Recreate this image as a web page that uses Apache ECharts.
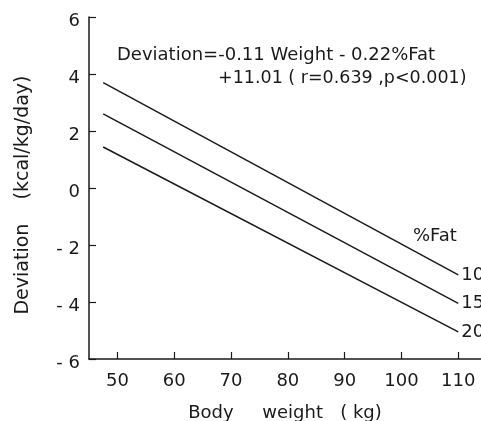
<!DOCTYPE html>
<html>
<head>
<meta charset="utf-8">
<title>Deviation vs body weight</title>
<script src="https://cdn.jsdelivr.net/npm/echarts@6/dist/echarts.min.js"></script>
<style>
  html, body { margin: 0; padding: 0; background: #fff; }
  #main { width: 481px; height: 421px; }
</style>
</head>
<body>
<div id="main"></div>
<script>
// 数据（从图上读出来的）
const weights = [47.5, 110];
const fatGroups = ['10', '15', '20'];
const fat10 = [3.7, -3.05];
const fat15 = [2.6, -4.05];
const fat20 = [1.44, -5.05];
const xTicks = [50, 60, 70, 80, 90, 100, 110];

const font = 'DejaVu Sans';
const ink = '#1a1a1a';

const chartDom = document.getElementById('main');
const myChart = echarts.init(chartDom);

// 每条线只有两个端点
const makeSeries = (name, values) => ({
    name: name,
    type: 'line',
    symbol: 'none',
    data: weights.map((w, i) => [w, values[i]]),
    lineStyle: { color: ink, width: 1.5 },
    endLabel: {
        show: true,
        formatter: '{a}',
        color: ink,
        fontFamily: font,
        fontSize: 18,
        distance: 3
    }
});

const option = {
    backgroundColor: '#fff',
    animation: false,
    // v6 默认会把网格往里缩，这里关掉
    grid: { left: 89, right: 0, top: 17, bottom: 62, outerBoundsMode: 'none' },
    xAxis: {
        type: 'value',
        min: 45,
        max: 114,
        name: 'Body     weight   ( kg)',
        nameLocation: 'middle',
        nameGap: 45,
        nameTextStyle: { color: ink, fontFamily: font, fontSize: 18 },
        axisLine: { onZero: false, lineStyle: { color: ink, width: 1.5 } },
        axisTick: { inside: true, length: 7, customValues: xTicks, lineStyle: { color: ink, width: 1.2 } },
        axisLabel: { customValues: xTicks, margin: 13, color: ink, fontFamily: font, fontSize: 18 },
        splitLine: { show: false }
    },
    yAxis: {
        type: 'value',
        min: -6,
        max: 6,
        interval: 2,
        name: 'Deviation    (kcal/kg/day)',
        nameLocation: 'middle',
        nameGap: 56,
        nameTextStyle: { color: ink, fontFamily: font, fontSize: 19, padding: [0, 14, 0, 0] },
        axisLine: { show: true, onZero: false, lineStyle: { color: ink, width: 1.5 } },
        axisTick: { show: true, inside: true, length: 7, lineStyle: { color: ink, width: 1.2 } },
        axisLabel: {
            margin: 9,
            verticalAlign: 'top',
            lineHeight: 8,
            color: ink,
            fontFamily: font,
            fontSize: 18,
            formatter: v => (v < 0 ? '- ' + Math.abs(v) : String(v))
        },
        splitLine: { show: false }
    },
    // 回归方程和图例标题
    graphic: [
        {
            type: 'text', left: 117, top: 46,
            style: { text: 'Deviation=-0.11 Weight - 0.22%Fat', fill: ink, font: '18px "DejaVu Sans"' }
        },
        {
            type: 'text', left: 218, top: 69,
            style: { text: '+11.01 ( r=0.639 ,p<0.001)', fill: ink, font: '17.5px "DejaVu Sans"' }
        },
        {
            type: 'text', left: 413, top: 227,
            style: { text: '%Fat', fill: ink, font: '18px "DejaVu Sans"' }
        }
    ],
    series: [
        makeSeries(fatGroups[0], fat10),
        makeSeries(fatGroups[1], fat15),
        makeSeries(fatGroups[2], fat20)
    ]
};

option && myChart.setOption(option);
</script>
</body>
</html>
